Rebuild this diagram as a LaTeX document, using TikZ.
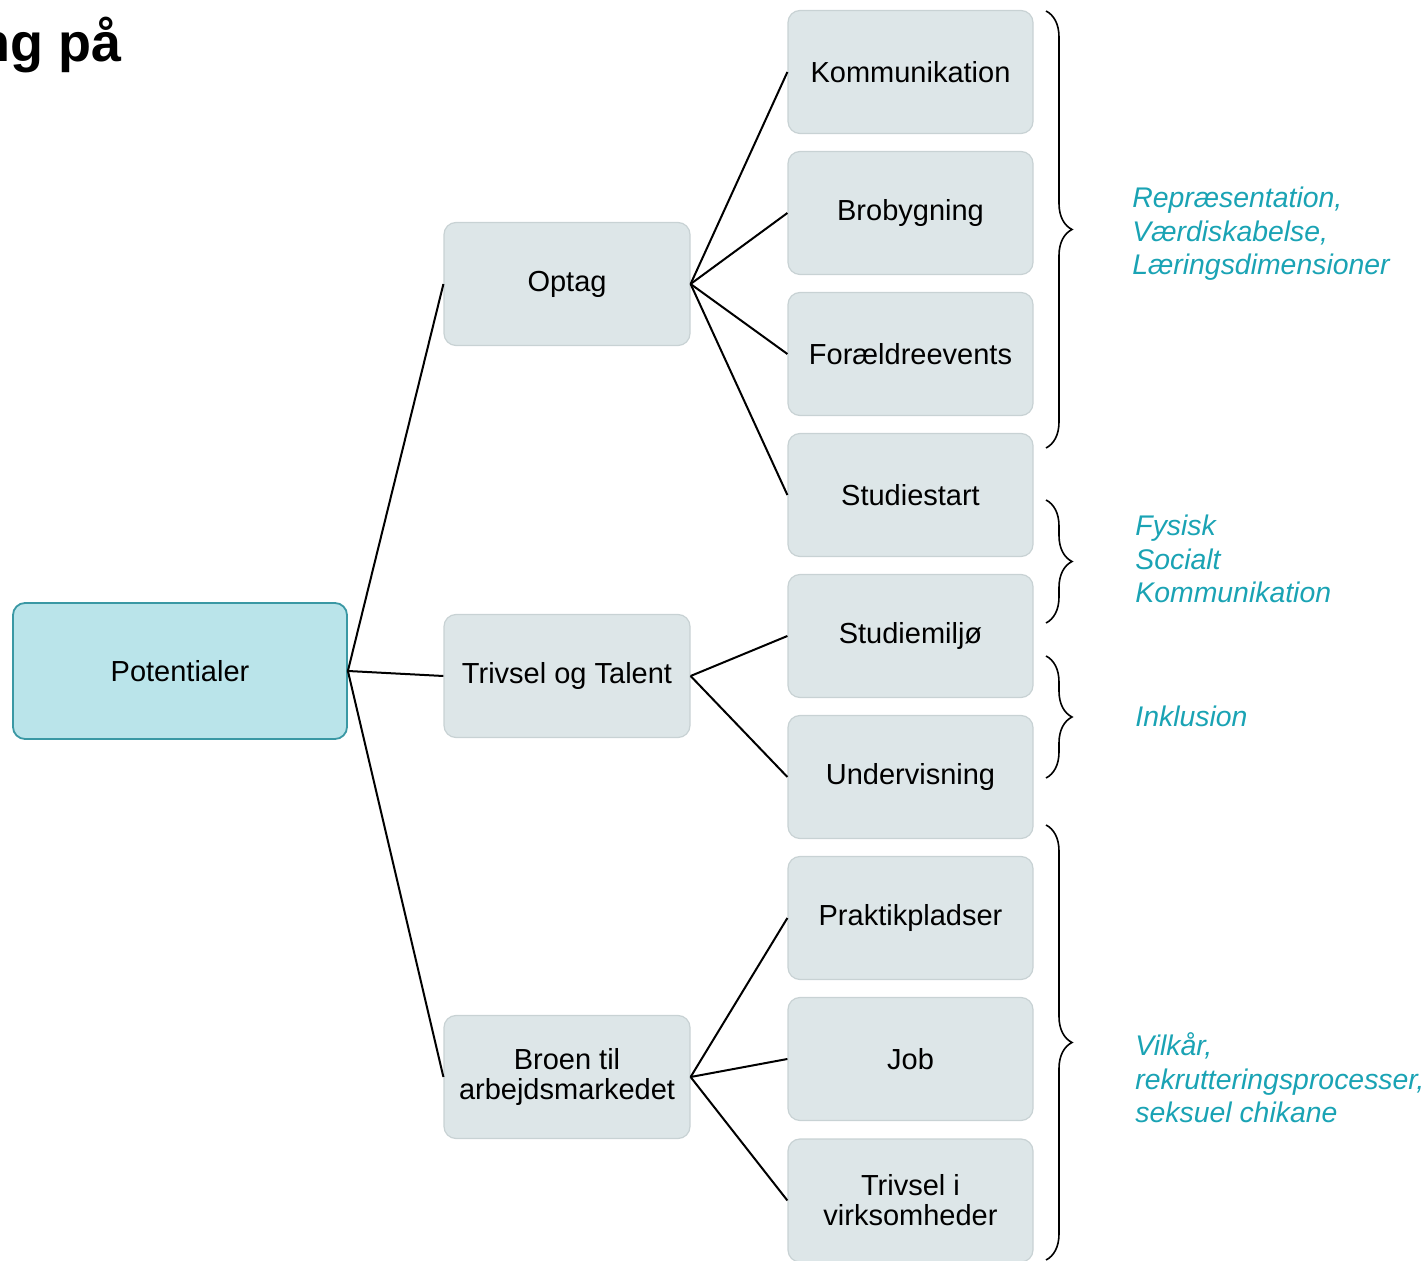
\documentclass[tikz,border=0pt]{standalone}
\usepackage{fontspec}
\setmainfont{Liberation Sans}
\usetikzlibrary{decorations.pathreplacing}

\definecolor{potfill}{HTML}{BAE4EA}
\definecolor{potdraw}{HTML}{3A98A4}
\definecolor{boxfill}{HTML}{DDE6E8}
\definecolor{boxdraw}{HTML}{C8D2D4}
\definecolor{notecol}{HTML}{1AA3B4}

\begin{document}
\begin{tikzpicture}[x=0.5pt, y=-0.5pt,
    every node/.style={font=\fontsize{14.5}{15}\selectfont},
    rootbox/.style={draw=potdraw, fill=potfill, line width=0.9pt, rounded corners=6pt,
        minimum width=167pt, minimum height=68pt},
    areabox/.style={draw=boxdraw, fill=boxfill, line width=0.6pt, rounded corners=6pt,
        minimum width=123pt, minimum height=61.5pt, align=center},
    itembox/.style={areabox, minimum width=122.5pt},
    note/.style={text=notecol, font=\fontsize{14.2}{16.75}\selectfont\itshape,
        align=left, anchor=west, inner sep=0pt},
    link/.style={line width=1pt},
    curly/.style={decorate, decoration={brace, amplitude=13pt}, line width=0.8pt}]

        \clip (0,0) rectangle (1426,1261);

        \node[anchor=base east, inner sep=0pt, font=\fontsize{27}{30}\selectfont\bfseries] at (122,62) (title) {ng på};

        \node[rootbox] at (180,671) (pot) {Potentialer};

        \node[areabox] at (567,284) (optag) {Optag};
        \node[areabox] at (567,676) (trivsel) {Trivsel og Talent};
        \node[areabox] at (567,1077) (broen) {Broen til\\arbejdsmarkedet};

        \node[itembox] at (910.5,72) (komm) {Kommunikation};
        \node[itembox] at (910.5,213) (brobyg) {Brobygning};
        \node[itembox] at (910.5,354) (foraeld) {Forældreevents};
        \node[itembox] at (910.5,495) (start) {Studiestart};
        \node[itembox] at (910.5,636) (miljo) {Studiemiljø};
        \node[itembox] at (910.5,777) (underv) {Undervisning};
        \node[itembox] at (910.5,918) (praktik) {Praktikpladser};
        \node[itembox] at (910.5,1059) (job) {Job};
        \node[itembox] at (910.5,1200.5) (virk) {Trivsel i\\virksomheder};

        \draw[link] (pot.east) -- (optag.west);
        \draw[link] (pot.east) -- (trivsel.west);
        \draw[link] (pot.east) -- (broen.west);

        \draw[link] (optag.east) -- (komm.west);
        \draw[link] (optag.east) -- (brobyg.west);
        \draw[link] (optag.east) -- (foraeld.west);
        \draw[link] (optag.east) -- (start.west);
        \draw[link] (trivsel.east) -- (miljo.west);
        \draw[link] (trivsel.east) -- (underv.west);
        \draw[link] (broen.east) -- (praktik.west);
        \draw[link] (broen.east) -- (job.west);
        \draw[link] (broen.east) -- (virk.west);

        % braces with their notes
        \draw[curly] (1046,11) -- (1046,448);
        \draw[curly] (1046,500) -- (1046,623);
        \draw[curly] (1046,656) -- (1046,778);
        \draw[curly] (1046,825) -- (1046,1260);

        \node[note] at (1132,234) (note1) {Repræsentation,\\Værdiskabelse,\\Læringsdimensioner};
        \node[note] at (1135,559) (note2) {Fysisk\\Socialt\\Kommunikation};
        \node[note] at (1135,716) (note3) {Inklusion};
        \node[note] at (1135,1078) (note4) {Vilkår,\\rekrutteringsprocesser,\\seksuel chikane};

    \end{tikzpicture}
\end{document}
